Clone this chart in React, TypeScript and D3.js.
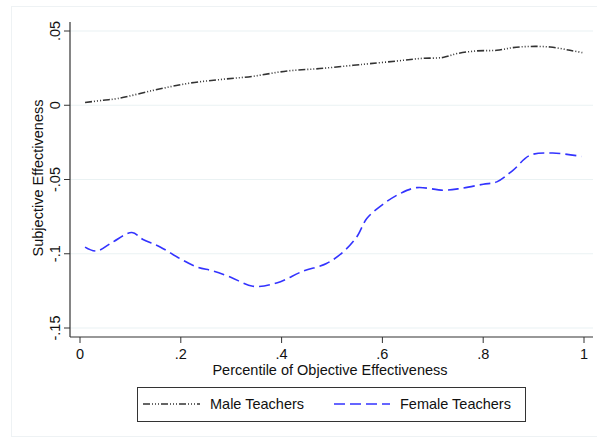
import React from "react";
import * as d3 from "d3";

const maleX = [0.01, 0.046, 0.075, 0.145, 0.212, 0.278, 0.343, 0.411, 0.476, 0.542, 0.575, 0.629, 0.675, 0.72, 0.748, 0.788, 0.827, 0.859, 0.893, 0.933, 0.972, 1.0];
const maleY = [0.0018, 0.0034, 0.0045, 0.01, 0.0146, 0.0173, 0.0195, 0.0231, 0.0247, 0.0269, 0.028, 0.0298, 0.0315, 0.0322, 0.0348, 0.0366, 0.037, 0.0388, 0.0396, 0.0392, 0.037, 0.0352];

const femaleX = [0.01, 0.033, 0.065, 0.103, 0.125, 0.159, 0.198, 0.232, 0.264, 0.298, 0.343, 0.39, 0.442, 0.489, 0.522, 0.549, 0.569, 0.601, 0.635, 0.668, 0.721, 0.754, 0.8, 0.827, 0.859, 0.893, 0.938, 0.995];
const femaleY = [-0.0955, -0.0982, -0.0921, -0.0857, -0.0904, -0.0954, -0.1032, -0.1089, -0.1116, -0.1156, -0.1219, -0.1197, -0.1118, -0.1066, -0.0988, -0.0887, -0.0763, -0.0667, -0.0595, -0.0555, -0.0572, -0.0561, -0.0532, -0.0516, -0.0438, -0.0337, -0.0322, -0.0345];

const xTicks = [0, 0.2, 0.4, 0.6, 0.8, 1];
const xTickLabels = ["0", ".2", ".4", ".6", ".8", "1"];
const yTicks = [0.05, 0, -0.05, -0.1, -0.15];
const yTickLabels = [".05", "0", "-.05", "-.1", "-.15"];
const seriesNames = ["Male Teachers", "Female Teachers"];

export default function App() {
  const font = "'Liberation Sans', Arial, sans-serif";
  const fs = 14.5;
  const x = d3.scaleLinear().domain([0, 1]).range([80, 584]);
  const y = d3.scaleLinear().domain([0.05, -0.15]).range([31, 328]);
  const left = 70, right = 593, top = 22, bottom = 337;

  const line = d3
    .line<[number, number]>()
    .x((d) => x(d[0]))
    .y((d) => y(d[1]))
    .curve(d3.curveCatmullRom.alpha(0.5));

  const male = maleX.map((v, i) => [v, maleY[i]] as [number, number]);
  const female = femaleX.map((v, i) => [v, femaleY[i]] as [number, number]);

  const maleDash = "7,2,1,2,1,2,1,2";
  const femaleDash = "11,5";
  const blue = "#3333ff";

  return (
    <svg width={597} height={439} style={{ position: "absolute", left: 0, top: 0 }} fontFamily={font}>
      <rect x={0} y={0} width={597} height={439} fill="#fff" />
      <rect x={11.5} y={6.5} width={590} height={430} fill="#fff" stroke="#eef2f4" />
      {yTicks.map((t) => (
        <line key={"g" + t} x1={left} x2={right} y1={y(t)} y2={y(t)} stroke="#eaf2f3" strokeWidth={1.2} />
      ))}
      <path d={line(male) || ""} fill="none" stroke="#333" strokeWidth={1.6} strokeDasharray={maleDash} />
      <path d={line(female) || ""} fill="none" stroke={blue} strokeWidth={1.6} strokeDasharray={femaleDash} />
      <line x1={left} x2={left} y1={top} y2={bottom} stroke="#333" strokeWidth={1.2} />
      <line x1={left} x2={right} y1={bottom} y2={bottom} stroke="#333" strokeWidth={1.2} />
      {yTicks.map((t, i) => (
        <g key={"y" + t}>
          <line x1={left - 6} x2={left} y1={y(t)} y2={y(t)} stroke="#333" strokeWidth={1} />
          <text
            transform={`translate(${left - 10},${y(t)}) rotate(-90)`}
            textAnchor="middle"
            fontSize={fs}
            fill="#111"
          >
            {yTickLabels[i]}
          </text>
        </g>
      ))}
      {xTicks.map((t, i) => (
        <g key={"x" + t}>
          <line x1={x(t)} x2={x(t)} y1={bottom} y2={bottom + 6} stroke="#333" strokeWidth={1} />
          <text x={x(t)} y={bottom + 22} textAnchor="middle" fontSize={fs} fill="#111">
            {xTickLabels[i]}
          </text>
        </g>
      ))}
      <text x={330} y={375} textAnchor="middle" fontSize={fs} fill="#111">
        Percentile of Objective Effectiveness
      </text>
      <text transform={`translate(43,178) rotate(-90)`} textAnchor="middle" fontSize={fs} fill="#111">
        Subjective Effectiveness
      </text>
      <rect x={137.5} y={387.5} width={388} height={34} fill="#fff" stroke="#333" strokeWidth={1} />
      <line x1={143} x2={200} y1={404} y2={404} stroke="#333" strokeWidth={1.6} strokeDasharray={maleDash} />
      <text x={210} y={409} fontSize={fs} fill="#111">{seriesNames[0]}</text>
      <line x1={334} x2={390} y1={404} y2={404} stroke={blue} strokeWidth={1.6} strokeDasharray={femaleDash} />
      <text x={400} y={409} fontSize={fs} fill="#111">{seriesNames[1]}</text>
    </svg>
  );
}
